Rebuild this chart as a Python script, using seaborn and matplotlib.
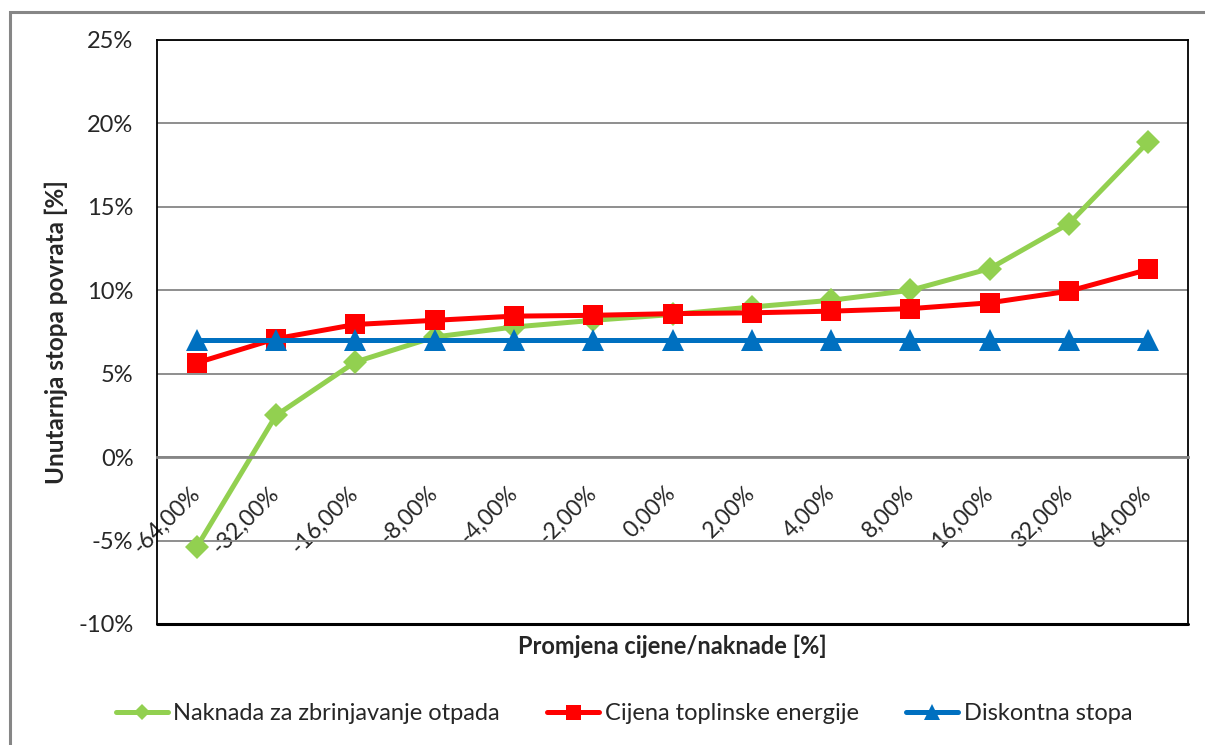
import numpy as np
import pandas as pd
import matplotlib
matplotlib.use("Agg")
import matplotlib.pyplot as plt
from matplotlib.ticker import FuncFormatter, MultipleLocator
from matplotlib.patches import Rectangle
from matplotlib.lines import Line2D
import seaborn as sns

# data (values in %)
change_labels = ["-64,00%", "-32,00%", "-16,00%", "-8,00%", "-4,00%", "-2,00%", "0,00%",
                 "2,00%", "4,00%", "8,00%", "16,00%", "32,00%", "64,00%"]
naknada = [-5.4, 2.5, 5.7, 7.2, 7.8, 8.2, 8.55, 9.0, 9.4, 10.0, 11.3, 14.0, 18.9]
cijena = [5.65, 7.1, 7.95, 8.2, 8.45, 8.5, 8.6, 8.65, 8.75, 8.9, 9.25, 9.95, 11.25]
diskontna = [7.0] * 13

series_names = ["Naknada za zbrinjavanje otpada", "Cijena toplinske energije", "Diskontna stopa"]
colors = ["#92D050", "#FF0000", "#0070C0"]
markers = ["D", "s", "^"]
msizes = [12, 15, 15.5]

sns.set_style("white")
plt.rcParams["font.family"] = ["Lato", "DejaVu Sans"]
plt.rcParams["axes.unicode_minus"] = False

fig = plt.figure(figsize=(12.05, 7.45), dpi=100)
ax = fig.add_axes([157 / 1205, 1 - 624 / 745, (1188 - 157) / 1205, (624 - 40) / 745])

pos = np.arange(len(change_labels))
for vals, name, c, m, ms in zip([naknada, cijena, diskontna], series_names, colors, markers, msizes):
    sns.lineplot(x=pos, y=vals, ax=ax, color=c, marker=m, markersize=ms,
                 markeredgewidth=0, linewidth=3.6, legend=False)

ax.set_xlim(-0.5, len(change_labels) - 0.5)
ax.set_ylim(-10, 25)
ax.yaxis.set_major_locator(MultipleLocator(5))
ax.yaxis.set_major_formatter(FuncFormatter(lambda v, p: f"{v:.0f}%"))
ax.grid(axis="y", color="#868686", linewidth=1.3)
ax.set_axisbelow(True)

for side in ["left", "right", "top"]:
    ax.spines[side].set_color("black")
    ax.spines[side].set_linewidth(1.3)
ax.spines["bottom"].set_position(("data", 0))
ax.spines["bottom"].set_color("#868686")
ax.spines["bottom"].set_linewidth(2)

# black frame bottom edge (bottom spine moved to zero)
ax.axhline(-10, color="black", linewidth=2.2, clip_on=False)

ax.set_xticks(pos)
ax.set_xticklabels(change_labels, rotation=45, ha="right", va="center",
                   rotation_mode="anchor", fontsize=16.5)
ax.tick_params(axis="x", direction="inout", length=9, width=1.3, color="#868686", pad=19)
ax.tick_params(axis="y", length=0, pad=17, labelsize=17)

ax.set_ylabel("Unutarnja stopa povrata [%]", fontsize=17.5, fontweight="bold")
ax.yaxis.set_label_coords((68 - 157) / 1031, 0.5)
fig.text(672 / 1205, 1 - 646 / 745, "Promjena cijene/naknade [%]", fontsize=17,
         fontweight="bold", ha="center", va="center")

# legend proxies with smaller markers, like the Excel legend
proxies = [Line2D([], [], color=c, marker=m, markersize=ms * 0.72, markeredgewidth=0, linewidth=3.6)
           for c, m, ms in zip(colors, markers, msizes)]
fig.legend(proxies, series_names, loc="center", bbox_to_anchor=(0.518, 1 - 714 / 745), ncol=3,
           frameon=False, fontsize=17, handlelength=2.2, columnspacing=2.0, handletextpad=0.25)

# outer chart-area border
fig.patches.append(Rectangle((10 / 1205, -0.05), 1.2, 1 - 12 / 745 + 0.05, transform=fig.transFigure,
                             fill=False, edgecolor="#868686", linewidth=2.2))

fig.savefig("out.png", dpi=100)
